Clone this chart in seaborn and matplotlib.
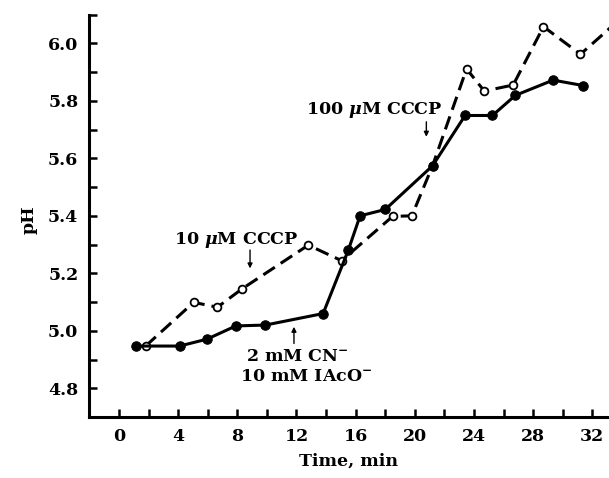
import numpy as np
import pandas as pd
import matplotlib
matplotlib.use("Agg")
import matplotlib.pyplot as plt
import seaborn as sns

# Valores
t_cn = [1.15, 4.1, 5.95, 7.9, 9.9, 13.8, 15.5, 16.3, 18.0, 21.2, 23.4, 25.25, 26.8, 29.35, 31.4]
ph_cn = [4.947, 4.947, 4.971, 5.017, 5.02, 5.06, 5.28, 5.40, 5.422, 5.574, 5.749, 5.749, 5.819, 5.872, 5.853]

t_cccp = [1.8, 5.05, 6.65, 8.35, 12.8, 15.05, 18.5, 19.8, 21.2, 23.5, 24.7, 26.65, 28.7, 31.2, 34.0]
ph_cccp = [4.947, 5.099, 5.082, 5.147, 5.298, 5.244, 5.398, 5.40, 5.574, 5.911, 5.834, 5.855, 6.058, 5.962, 6.09]

x_ticks = list(range(0, 33, 4))
y_ticks = [4.8, 5.0, 5.2, 5.4, 5.6, 5.8, 6.0]

sns.set_theme(style="ticks")
plt.rcParams["font.family"] = ["DejaVu Serif"]
plt.rcParams["font.weight"] = "bold"
plt.rcParams["mathtext.fontset"] = "dejavuserif"
for k in ["text.color", "axes.labelcolor", "xtick.color", "ytick.color", "axes.edgecolor"]:
    plt.rcParams[k] = "black"

fs = 12.5

fig = plt.figure(figsize=(6.09, 4.78), dpi=100)
ax = fig.add_axes([0.1468, 0.1275, 0.8525, 0.842])

df_cccp = pd.DataFrame({"t": t_cccp, "ph": ph_cccp})
df_cn = pd.DataFrame({"t": t_cn, "ph": ph_cn})

# serie con CCCP: discontinua, circulos abiertos
sns.lineplot(data=df_cccp, x="t", y="ph", ax=ax, color="black", lw=2.2,
             linestyle=(0, (4.5, 2.3)), marker="o", markersize=5.6,
             markerfacecolor="white", markeredgecolor="black", markeredgewidth=1.3,
             zorder=2)
# serie con CN- / IAcO-: continua, circulos llenos
sns.lineplot(data=df_cn, x="t", y="ph", ax=ax, color="black", lw=2.2,
             marker="o", markersize=6.8, markerfacecolor="black",
             markeredgecolor="black", zorder=3)

ax.set_xlim(-2, 33.1)
ax.set_ylim(4.7, 6.1)
ax.set_xticks(x_ticks)
ax.set_xticks(np.arange(-2, 34, 2), minor=True)
ax.set_yticks(y_ticks)
ax.set_yticks(np.arange(4.7, 6.15, 0.1), minor=True)
ax.set_yticklabels([f"{v:.1f}" for v in y_ticks])

ax.tick_params(which="both", direction="in", length=6, width=1.8, labelsize=fs)
ax.tick_params(axis="y", pad=8)
ax.tick_params(axis="x", pad=8)

sns.despine(ax=ax)
for s in ["left", "bottom"]:
    ax.spines[s].set_linewidth(2.2)

ax.set_xlabel("Time, min", fontsize=fs, fontweight="bold")
ax.set_ylabel("pH", fontsize=fs, fontweight="bold")
ax.xaxis.set_label_coords(0.5, -0.089)
ax.yaxis.set_label_coords(-0.099, 0.49)

# anotaciones
arrow = dict(arrowstyle="-|>", color="black", lw=1.0, mutation_scale=7, shrinkA=0, shrinkB=0)
ax.text(17.24, 5.768, r"100 $\mu$M CCCP", ha="center", va="center", fontsize=fs)
ax.annotate("", xy=(20.78, 5.675), xytext=(20.78, 5.727), arrowprops=arrow)

ax.text(7.95, 5.315, r"10 $\mu$M CCCP", ha="center", va="center", fontsize=fs)
ax.annotate("", xy=(8.86, 5.217), xytext=(8.86, 5.281), arrowprops=arrow)

ax.text(12.05, 4.91, r"2 mM CN$^{-}$", ha="center", va="center", fontsize=fs)
ax.text(12.63, 4.84, r"10 mM IAcO$^{-}$", ha="center", va="center", fontsize=fs)
ax.annotate("", xy=(11.83, 5.014), xytext=(11.83, 4.956), arrowprops=arrow)

plt.savefig("out.png", dpi=100)
plt.close()
